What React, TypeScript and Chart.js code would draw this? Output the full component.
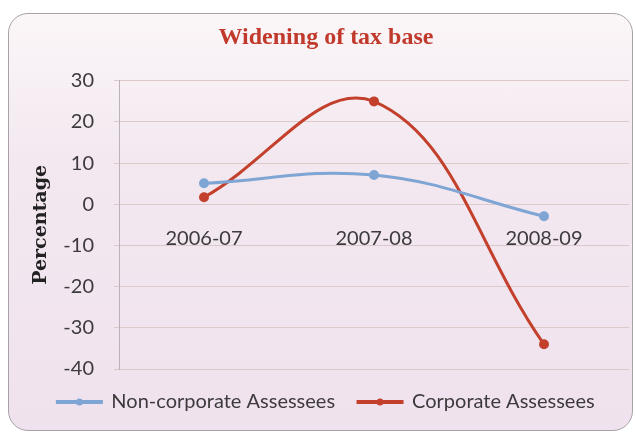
import { useEffect, useRef } from "react";
import { Chart, registerables } from "chart.js";

Chart.register(...registerables);

// Financial years on the category axis
const years = ["2006-07", "2007-08", "2008-09"];

// Growth in the number of assessees, in percent
const nonCorporate = [5.1, 7.1, -2.9];
const corporate = [1.7, 25, -34];

// Value axis range and spacing
const yMin = -40;
const yMax = 30;
const yStep = 10;

const seriesNames = ["Non-corporate Assessees", "Corporate Assessees"];

const BLUE = "#7ea5d4";
const RED = "#c3402c";
const GRID = "#dccaca";
const AXIS = "#b9b2b8";
const TEXT = "#3d3a3d";
const LABEL_FONT = { family: "Lato", size: 20 };

// Small round marker in the middle of each legend line sample
const legendMarkers = {
  id: "legendMarkers",
  afterDraw(chart: any) {
    const legend = chart.legend;
    if (!legend || !legend.legendHitBoxes) return;
    const ctx = chart.ctx;
    const bw = legend.options.labels.boxWidth;
    legend.legendHitBoxes.forEach((hb: any, i: number) => {
      const ds = chart.data.datasets[i];
      ctx.save();
      ctx.fillStyle = ds.borderColor;
      ctx.beginPath();
      ctx.arc(hb.left + bw / 2, hb.top + hb.height / 2, 3.5, 0, Math.PI * 2);
      ctx.fill();
      ctx.restore();
    });
  },
};

export default function App() {
  const canvasRef = useRef<HTMLCanvasElement | null>(null);

  useEffect(() => {
    if (!canvasRef.current) return;
    const chart = new Chart(canvasRef.current, {
      type: "line",
      data: {
        labels: years,
        datasets: [
          {
            label: seriesNames[0],
            data: nonCorporate,
            borderColor: BLUE,
            backgroundColor: BLUE,
            borderWidth: 3,
            tension: 0.4,
            pointRadius: 3.5,
            pointBackgroundColor: BLUE,
            pointBorderColor: BLUE,
          },
          {
            label: seriesNames[1],
            data: corporate,
            borderColor: RED,
            backgroundColor: RED,
            borderWidth: 3,
            tension: 0.4,
            pointRadius: 3.5,
            pointBackgroundColor: RED,
            pointBorderColor: RED,
          },
        ],
      },
      options: {
        animation: false,
        responsive: false,
        maintainAspectRatio: false,
        layout: { padding: { left: 20, right: 4, top: 0, bottom: 16 } },
        plugins: {
          title: {
            display: true,
            text: "Widening of tax base",
            color: "#c0392b",
            font: { family: "Liberation Serif", weight: "bold", size: 24 },
            padding: { top: 23, bottom: 29 },
          },
          legend: {
            position: "bottom",
            labels: {
              boxWidth: 44,
              boxHeight: 1,
              padding: 23,
              color: TEXT,
              font: LABEL_FONT,
            },
          },
          tooltip: { enabled: false },
        },
        scales: {
          x: {
            type: "category",
            offset: true,
            position: { y: 0 } as any,
            grid: { display: false },
            border: { display: false },
            ticks: { padding: 14, color: TEXT, font: LABEL_FONT },
          },
          y: {
            min: yMin,
            max: yMax,
            ticks: { stepSize: yStep, padding: 20, color: TEXT, font: LABEL_FONT },
            grid: { color: GRID, tickLength: 5 },
            border: { color: AXIS },
            title: {
              display: true,
              text: "Percentage",
              color: "#222222",
              font: { family: "DejaVu Serif", weight: "bold", size: 19 },
              padding: { top: 10, bottom: 0 },
            },
            afterFit(scale: any) {
              scale.width = 99;
            },
          },
        },
      },
      plugins: [legendMarkers],
    });
    return () => chart.destroy();
  }, []);

  return (
    <div
      style={{
        position: "fixed",
        left: 0,
        top: 0,
        width: 636,
        height: 438,
        background: "#ffffff",
      }}
    >
      <div
        style={{
          position: "absolute",
          left: 8,
          top: 13,
          width: 625,
          height: 418,
          boxSizing: "border-box",
          border: "1.5px solid #a7a2a7",
          borderRadius: 20,
          background: "linear-gradient(180deg, #fbf6f8 0%, #f3e8f0 35%, #efe2ee 100%)",
        }}
      />
      <canvas
        ref={canvasRef}
        width={636}
        height={438}
        style={{ position: "absolute", left: 0, top: 0, width: 636, height: 438 }}
      />
    </div>
  );
}
